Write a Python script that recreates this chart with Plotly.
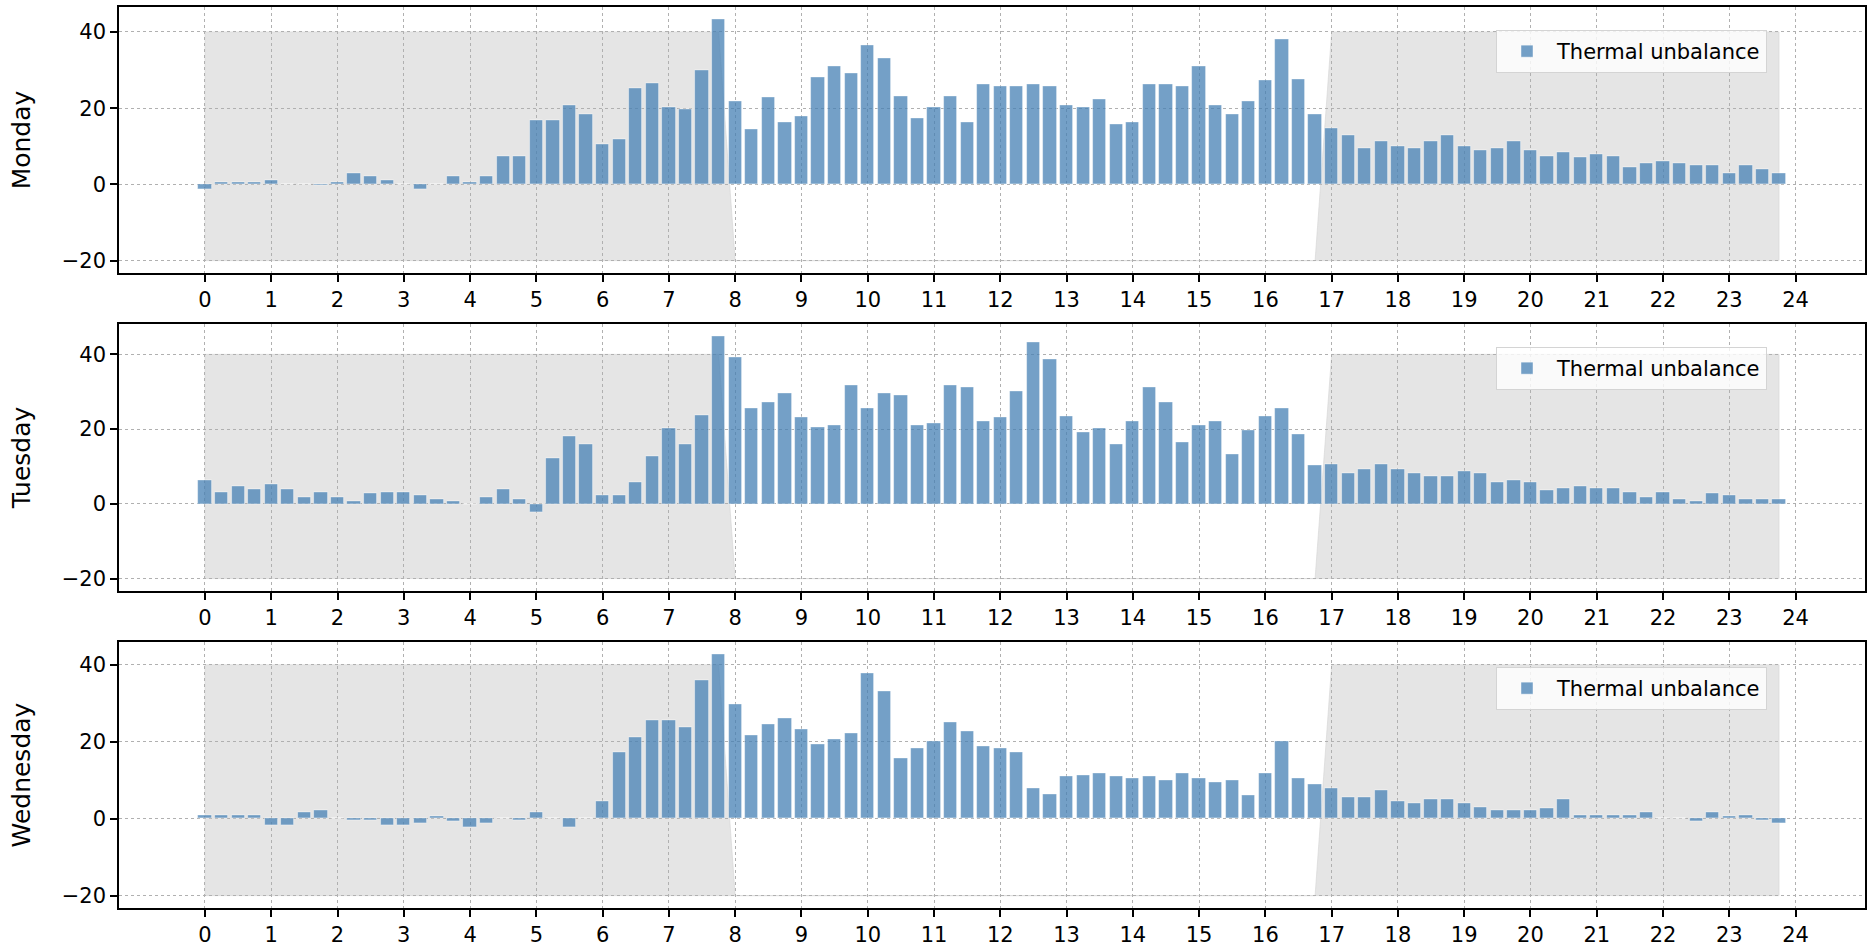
import plotly.graph_objects as go

hours = [i * 0.25 for i in range(96)]
xticks = list(range(25))
yticks = [-20, 0, 20, 40]
days = ["Monday", "Tuesday", "Wednesday"]
series_name = "Thermal unbalance"
fill_low, fill_high = -20, 40
work_start, work_end = 8, 17

monday = [-1.3, 0.5, 0.5, 0.5, 1.0, 0, 0, -0.2, 0.5, 3.0, 2.0, 1.0, 0, -1.3, 0, 2.0,
          0.5, 2.0, 7.4, 7.4, 16.8, 16.8, 20.7, 18.3, 10.4, 11.9, 25.2, 26.6, 20.2, 19.7, 30.0, 43.3,
          21.7, 14.4, 22.8, 16.3, 17.8, 28.2, 31.1, 29.2, 36.6, 33.1, 23.2, 17.4, 20.2, 23.2, 16.3, 26.2,
          25.7, 25.7, 26.2, 25.7, 20.8, 20.2, 22.3, 15.9, 16.3, 26.2, 26.2, 25.7, 31.1, 20.8, 18.3, 21.7,
          27.2, 38.0, 27.7, 18.3, 14.8, 12.9, 9.5, 11.4, 9.9, 9.5, 11.4, 12.9, 9.9, 8.9, 9.5, 11.4,
          8.9, 7.4, 8.4, 7.0, 8.0, 7.4, 4.5, 5.5, 6.0, 5.5, 5.0, 5.0, 3.0, 5.0, 3.9, 3.0]
tuesday = [6.2, 3.2, 4.7, 3.8, 5.3, 3.8, 1.7, 3.2, 1.7, 0.7, 2.7, 3.2, 3.2, 2.2, 1.3, 0.7,
           0, 1.7, 3.8, 1.3, -2.2, 12.3, 18.1, 16.0, 2.2, 2.2, 5.7, 12.8, 20.1, 16.0, 23.6, 44.8,
           39.2, 25.6, 27.1, 29.6, 23.1, 20.6, 21.0, 31.6, 25.6, 29.6, 29.1, 21.0, 21.6, 31.6, 31.2, 22.1,
           23.1, 30.1, 43.2, 38.7, 23.5, 19.1, 20.1, 16.0, 22.1, 31.2, 27.1, 16.6, 21.0, 22.1, 13.2, 19.6,
           23.5, 25.6, 18.5, 10.2, 10.7, 8.2, 9.2, 10.7, 9.2, 8.2, 7.3, 7.3, 8.7, 8.2, 5.7, 6.2,
           5.7, 3.7, 4.2, 4.7, 4.2, 4.2, 3.2, 1.7, 3.2, 1.3, 0.7, 2.7, 2.2, 1.3, 1.3, 1.3]
wednesday = [1.0, 1.0, 1.0, 1.0, -1.7, -1.7, 1.6, 2.1, 0, -0.3, -0.3, -1.7, -1.7, -1.2, 0.6, -0.7,
             -2.2, -1.2, 0, -0.3, 1.6, 0, -2.2, 0, 4.5, 17.3, 21.2, 25.6, 25.6, 23.7, 35.9, 42.7,
             29.6, 21.7, 24.6, 26.1, 23.1, 19.3, 20.7, 22.2, 37.8, 33.0, 15.8, 18.3, 20.2, 25.1, 22.7, 18.8,
             18.3, 17.3, 7.8, 6.4, 11.0, 11.4, 11.9, 11.0, 10.4, 11.0, 9.9, 11.9, 10.4, 9.5, 9.9, 6.0,
             11.9, 20.2, 10.4, 9.0, 8.0, 5.6, 5.6, 7.5, 4.5, 4.1, 5.0, 5.0, 4.1, 3.0, 2.1, 2.1,
             2.1, 2.6, 5.0, 1.0, 1.0, 1.0, 1.0, 1.6, 0, 0, -0.7, 1.6, 0.6, 1.0, -0.3, -1.2]
values = [monday, tuesday, wednesday]

# ---- styling / layout ----
W, H = 1868, 950
ML, MR, MT, MB = 119, 3, 7, 42
axes_px = [(7.3, 272.7), (324.3, 590.7), (642.3, 907.7)]  # top, bottom in px
legend_top_px = [30, 347, 667]
legend_right_px = 1767
bar_width = 0.2
FONT = "DejaVu Sans"
TICK_SIZE = 21
bar_color = "rgba(70,128,180,0.75)"
fill_color = "rgba(211,211,211,0.6)"
grid_color = "#b0b0b0"

ph = H - MT - MB
pw = W - ML - MR


def ydom(top, bot):
    return [(H - MB - bot) / ph, (H - MB - top) / ph]


upper = [fill_high if (h < work_start or h >= work_end) else fill_low for h in hours]
lower = [fill_low for _ in hours]

fig = go.Figure()
shapes = []
layout_axes = {}
for k, (day, vals) in enumerate(zip(days, values)):
    sfx = "" if k == 0 else str(k + 1)
    xa, ya = "x" + sfx, "y" + sfx
    leg = "legend" + sfx
    fig.add_trace(go.Bar(
        x=hours, y=vals, width=bar_width, name=series_name,
        xaxis=xa, yaxis=ya, legend=leg,
        marker=dict(color=bar_color, line=dict(color="rgba(255,255,255,0.55)", width=0.8)),
        hoverinfo="x+y",
    ))
    # grey off-hours band: polygon between lower and upper curves
    pts = list(zip(hours, upper)) + list(zip(hours[::-1], lower[::-1]))
    path = "M " + " L ".join(f"{px},{py}" for px, py in pts) + " Z"
    shapes.append(dict(type="path", path=path, xref=xa, yref=ya, layer="below",
                       fillcolor=fill_color, line=dict(color=fill_color, width=1)))

    ymin = min(min(vals), fill_low)
    ymax = max(max(vals), fill_high)
    pad = 0.05 * (ymax - ymin)
    xmin, xmax = hours[0] - bar_width / 2, hours[-1] + bar_width / 2
    xpad = 0.05 * (xmax - xmin)
    common = dict(showline=True, mirror=True, linecolor="black", linewidth=1.6,
                  ticks="outside", ticklen=7, tickwidth=1.6, tickcolor="black",
                  showgrid=True, gridcolor=grid_color, gridwidth=1.4, griddash="dot",
                  zeroline=False, tickfont=dict(family=FONT, size=TICK_SIZE, color="black"))
    layout_axes["xaxis" + sfx] = dict(
        common, domain=[0, 1], anchor=ya, range=[xmin - xpad, xmax + xpad],
        tickmode="array", tickvals=xticks, ticktext=[str(t) for t in xticks])
    t, b = axes_px[k]
    layout_axes["yaxis" + sfx] = dict(
        common, domain=ydom(t, b), anchor=xa, range=[ymin - pad, ymax + pad],
        tickmode="array", tickvals=yticks,
        title=dict(text=day, font=dict(family=FONT, size=25, color="black"), standoff=24),
        automargin=False)
    layout_axes[leg] = dict(
        x=(legend_right_px - ML) / pw, xanchor="right",
        y=(H - MB - legend_top_px[k]) / ph, yanchor="top",
        itemwidth=50,
        bgcolor="rgba(255,255,255,0.8)", bordercolor="#d4d4d4", borderwidth=1,
        font=dict(family=FONT, size=21, color="black"))

fig.update_layout(
    width=W, height=H, margin=dict(l=ML, r=MR, t=MT, b=MB),
    paper_bgcolor="white", plot_bgcolor="white",
    barmode="overlay", bargap=0, showlegend=True, shapes=shapes,
    font=dict(family=FONT, color="black"),
    **layout_axes,
)
fig.write_html("out.html", config={"displayModeBar": False},
               post_script="document.body.style.margin='0';document.body.style.overflow='hidden';")
